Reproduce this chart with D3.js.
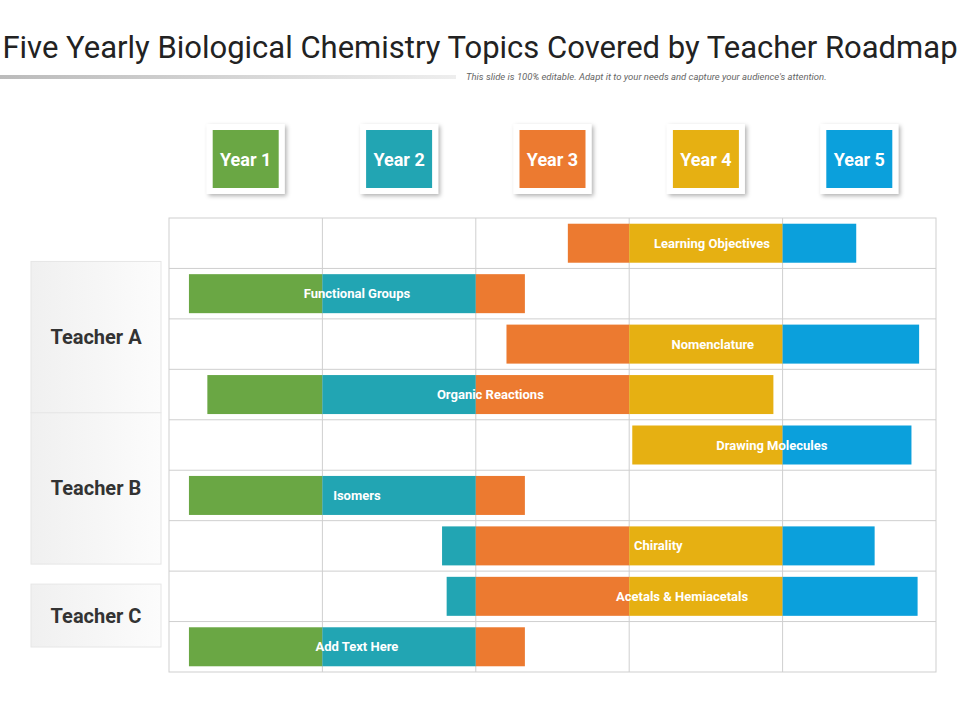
<!DOCTYPE html>
<html><head><meta charset="utf-8">
<script src="https://cdn.jsdelivr.net/npm/d3@7"></script>
<style>body{margin:0;background:#fff}svg{display:block}</style>
</head><body><svg id="c" width="960" height="720"></svg>
<script>
const years = ["Year 1","Year 2","Year 3","Year 4","Year 5"];
const yearColors = ["#6aa744","#22a5b3","#ec7a30","#e6b012","#0ba0dc"];
const topics = ["Learning Objectives","Functional Groups","Nomenclature","Organic Reactions","Drawing Molecules","Isomers","Chirality","Acetals & Hemiacetals","Add Text Here"];
const starts = [2.60,0.13,2.20,0.25,3.02,0.13,1.78,1.81,0.13];
const ends =   [4.48,2.32,4.89,3.94,4.84,2.32,4.60,4.88,2.32];
const teachers = ["Teacher A","Teacher B","Teacher C"];
const teacherRows = [[1,3],[4,6],[7,8]];

const svg = d3.select("#c");
const x = d3.scaleLinear().domain([0,5]).range([169,936]);
const y = d3.scaleBand().domain(d3.range(topics.length)).range([218,672]);
const font = "'Liberation Sans Narrow','Roboto',sans-serif";

// defs
const defs = svg.append("defs");
const lg = defs.append("linearGradient").attr("id","tl");
lg.append("stop").attr("offset","0").attr("stop-color","#bbb");
lg.append("stop").attr("offset","1").attr("stop-color","#eee");
const tg = defs.append("linearGradient").attr("id","tb");
tg.append("stop").attr("offset","0").attr("stop-color","#f0f0f0");
tg.append("stop").attr("offset","1").attr("stop-color","#fcfcfc");
const sh = defs.append("filter").attr("id","sh").attr("x","-20%").attr("y","-20%").attr("width","150%").attr("height","150%");
sh.append("feDropShadow").attr("dx",2).attr("dy",2).attr("stdDeviation",2).attr("flood-color","#000").attr("flood-opacity",0.3);

// title
svg.append("text").attr("x",480).attr("y",58).attr("text-anchor","middle")
  .attr("font-family",font).attr("font-size",31).attr("fill","#222")
  .text("Five Yearly Biological Chemistry Topics Covered by Teacher Roadmap");
svg.append("rect").attr("x",0).attr("y",75).attr("width",456).attr("height",4).attr("fill","url(#tl)");
svg.append("text").attr("x",466).attr("y",80).attr("font-family","Roboto,sans-serif").attr("font-style","italic")
  .attr("font-size",9.5).attr("fill","#666")
  .text("This slide is 100% editable. Adapt it to your needs and capture your audience's attention.");

// year boxes
years.forEach((yr,i)=>{
  const cx = (x(i)+x(i+1))/2 + 0;
  const g = svg.append("g");
  g.append("rect").attr("x",cx-39).attr("y",124).attr("width",78).attr("height",70).attr("fill","#fff").attr("filter","url(#sh)");
  g.append("rect").attr("x",cx-33).attr("y",130).attr("width",66).attr("height",58).attr("fill",yearColors[i]);
  g.append("text").attr("x",cx).attr("y",166).attr("text-anchor","middle").attr("font-family",font)
    .attr("font-weight","bold").attr("font-size",18).attr("fill","#fff").text(yr);
});

// teacher boxes
teachers.forEach((t,i)=>{
  const [a,b] = teacherRows[i];
  const y0 = y(a)-7, y1 = y(b)+y.bandwidth()-7 - (i===2?18:0);
  const yy0 = i===2? y(a)+13 : y0;
  svg.append("rect").attr("x",31).attr("y",yy0).attr("width",130).attr("height",y1-yy0)
    .attr("fill","url(#tb)").attr("stroke","#e6e6e6");
  svg.append("text").attr("x",96).attr("y",(yy0+y1)/2+7).attr("text-anchor","middle").attr("font-family",font)
    .attr("font-weight","bold").attr("font-size",20).attr("fill","#333").text(t);
});

// grid
const grid = svg.append("g").attr("stroke","#cfcfcf").attr("fill","none");
grid.append("rect").attr("x",x(0)).attr("y",218).attr("width",x(5)-x(0)).attr("height",454);
d3.range(1,5).forEach(i=>grid.append("line").attr("x1",x(i)).attr("x2",x(i)).attr("y1",218).attr("y2",672));
d3.range(1,topics.length).forEach(i=>grid.append("line").attr("x1",x(0)).attr("x2",x(5)).attr("y1",y(i)).attr("y2",y(i)));

// bars
const bh = 39;
topics.forEach((tp,i)=>{
  const yy = y(i) + (y.bandwidth()-bh)/2;
  for(let k=0;k<5;k++){
    const a = Math.max(starts[i],k), b = Math.min(ends[i],k+1);
    if(b>a) svg.append("rect").attr("x",x(a)).attr("y",yy).attr("width",x(b)-x(a)).attr("height",bh).attr("fill",yearColors[k]);
  }
  svg.append("text").attr("x",(x(starts[i])+x(ends[i]))/2).attr("y",yy+bh/2+4.5).attr("text-anchor","middle")
    .attr("font-family",font).attr("font-weight","bold").attr("font-size",13).attr("fill","#fff").text(tp);
});
</script></body></html>
